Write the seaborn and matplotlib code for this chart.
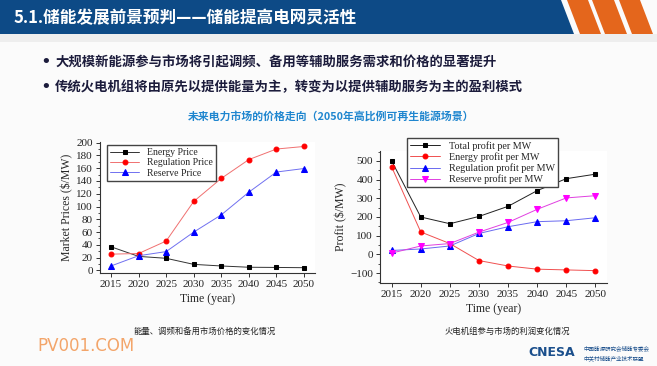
import matplotlib
matplotlib.use("Agg")
import matplotlib.pyplot as plt
from matplotlib.patches import Polygon, Rectangle
from matplotlib.ticker import MultipleLocator
import seaborn as sns

# data
years = [2015, 2020, 2025, 2030, 2035, 2040, 2045, 2050]

energy_price = [37, 22, 19, 9.5, 7, 5, 4.7, 4.3]
regulation_price = [25.5, 26.5, 46, 108, 144, 173.5, 190, 194]
reserve_price = [7, 23, 29.5, 60, 87, 122.5, 154, 159.5]

total_profit = [500, 200, 164, 203, 257, 341, 405, 429]
energy_profit = [468, 120, 58, -33, -62, -79, -83, -87]
regulation_profit = [21, 29, 45, 112, 148, 175, 180, 196]
reserve_profit = [7, 45, 58, 119, 171, 241, 302, 314]

title = "5.1.储能发展前景预判——储能提高电网灵活性"
bullets = ["大规模新能源参与市场将引起调频、备用等辅助服务需求和价格的显著提升",
           "传统火电机组将由原先以提供能量为主，转变为以提供辅助服务为主的盈利模式"]
subtitle = "未来电力市场的价格走向（2050年高比例可再生能源场景）"
captions = ["能量、调频和备用市场价格的变化情况", "火电机组参与市场的利润变化情况"]

sns.set_style("ticks")
plt.rcParams['font.family'] = ['Liberation Serif', 'Noto Sans CJK SC']
cjk = ['Noto Sans CJK SC', 'DejaVu Sans']

W, H = 657, 366
fig = plt.figure(figsize=(W / 100, H / 100), dpi=100)
fig.patch.set_facecolor("#fbfbfb")


def fx(px):
    return px / W


def fy(py):
    return 1 - py / H


# header band and stripes
fig.patches.append(Polygon([(0, fy(0)), (fx(561), fy(0)), (fx(574), fy(34)), (0, fy(34))],
                           closed=True, transform=fig.transFigure, facecolor="#0d4a86", edgecolor="none"))
for x0, x1 in [(567, 588), (592, 614), (619, 640)]:
    fig.patches.append(Polygon([(fx(x0), fy(0)), (fx(x1), fy(0)), (fx(x1 + 13), fy(34)), (fx(x0 + 13), fy(34))],
                               closed=True, transform=fig.transFigure, facecolor="#e4661c", edgecolor="none"))
fig.patches.append(Rectangle((0, fy(42)), 1, fy(34) - fy(42), transform=fig.transFigure,
                             facecolor="#eeeeee", edgecolor="none"))
fig.text(fx(14), fy(18), title, family=cjk, fontsize=12, fontweight="bold", color="white", va="center")

for i, b in enumerate(bullets):
    yy = fy(62 + 25 * i)
    fig.text(fx(46), yy, "•", family=["DejaVu Sans"], fontsize=13, color="#1c1c3c", va="center", ha="center")
    fig.text(fx(55), yy, b, family=cjk, fontsize=9.6, fontweight="bold", color="#1c1c3c", va="center")

fig.text(fx(331), fy(116), subtitle, family=cjk, fontsize=7.8, fontweight="bold", color="#1f86cf",
         ha="center", va="center")

# left chart: market prices
ax1 = fig.add_axes([fx(100), fy(273), fx(315) - fx(100), fy(142) - fy(273)])
sns.lineplot(x=years, y=energy_price, ax=ax1, color="#333333", lw=0.7, marker="s", markersize=3.5,
             markeredgecolor="black", markerfacecolor="black", label="Energy Price")
sns.lineplot(x=years, y=regulation_price, ax=ax1, color="#f07070", lw=0.7, marker="o", markersize=3.5,
             markeredgecolor="red", markerfacecolor="red", label="Regulation Price")
sns.lineplot(x=years, y=reserve_price, ax=ax1, color="#7070f0", lw=0.7, marker="^", markersize=4,
             markeredgecolor="blue", markerfacecolor="blue", label="Reserve Price")
ax1.set_xlim(2013, 2052)
ax1.set_ylim(-4, 201)
ax1.yaxis.set_major_locator(MultipleLocator(20))
ax1.yaxis.set_minor_locator(MultipleLocator(10))
ax1.set_ylabel(r"Market Prices (\$/MW)", fontsize=8.5, labelpad=2)
ax1.set_xlabel("Time (year)", fontsize=8.5, labelpad=3)
ax1.legend(loc="upper left", bbox_to_anchor=(fx(107), fy(145)), bbox_transform=fig.transFigure,
           fontsize=7, frameon=True, fancybox=False, edgecolor="#444444", framealpha=1,
           borderaxespad=0, handlelength=3, labelspacing=0.15, borderpad=0.3)

# right chart: profits
ax2 = fig.add_axes([fx(380), fy(283), fx(607) - fx(380), fy(151) - fy(283)])
sns.lineplot(x=years, y=total_profit, ax=ax2, color="#222222", lw=0.7, marker="s", markersize=3.5,
             markeredgecolor="black", markerfacecolor="black", label="Total profit per MW")
sns.lineplot(x=years, y=energy_profit, ax=ax2, color="#f05050", lw=0.7, marker="o", markersize=3.5,
             markeredgecolor="red", markerfacecolor="red", label="Energy profit per MW")
sns.lineplot(x=years, y=regulation_profit, ax=ax2, color="#6a6af0", lw=0.7, marker="^", markersize=4,
             markeredgecolor="blue", markerfacecolor="blue", label="Regulation profit per MW")
sns.lineplot(x=years, y=reserve_profit, ax=ax2, color="#e040e0", lw=0.7, marker="v", markersize=4,
             markeredgecolor="magenta", markerfacecolor="magenta", label="Reserve profit per MW")
ax2.set_xlim(2013, 2052)
ax2.set_ylim(-153, 553)
ax2.yaxis.set_major_locator(MultipleLocator(100))
ax2.yaxis.set_minor_locator(MultipleLocator(50))
ax2.set_ylabel(r"Profit (\$/MW)", fontsize=8.5, labelpad=2)
ax2.set_xlabel("Time (year)", fontsize=8.5, labelpad=3)
ax2.legend(loc="upper left", bbox_to_anchor=(fx(407), fy(138)), bbox_transform=fig.transFigure,
           fontsize=7.3, frameon=True, fancybox=False, edgecolor="#444444", framealpha=1,
           borderaxespad=0, handlelength=3, labelspacing=0.15, borderpad=0.3)

for ax in (ax1, ax2):
    ax.set_facecolor("white")
    ax.set_xticks(years)
    sns.despine(ax=ax)
    for s in ("left", "bottom"):
        ax.spines[s].set_linewidth(0.8)
        ax.spines[s].set_color("#333333")
    ax.tick_params(axis="both", which="major", labelsize=8, length=3, width=0.7, pad=2, colors="#333333",
                   labelcolor="#222222")
    ax.tick_params(axis="y", which="minor", length=1.8, width=0.6, colors="#333333")

# captions and footer
fig.text(fx(205), fy(331), captions[0], family=cjk, fontsize=6, color="#222222", ha="center", va="center")
fig.text(fx(507), fy(331), captions[1], family=cjk, fontsize=6, color="#222222", ha="center", va="center")
fig.text(fx(37), fy(346), "PV001.COM", family=["DejaVu Sans"], fontsize=12, color="#f3a56a", va="center")
fig.text(fx(528), fy(353), "CNESA", family=["DejaVu Sans"], fontsize=9, fontweight="bold",
         color="#1b4f8c", va="center")
fig.text(fx(584), fy(348), "中国能源研究会储能专委会", family=cjk, fontsize=4, color="#1b4f8c", va="center")
fig.text(fx(584), fy(358), "中关村储能产业技术联盟", family=cjk, fontsize=4, color="#1b4f8c", va="center")

fig.savefig("out.png", dpi=100, facecolor=fig.get_facecolor())
